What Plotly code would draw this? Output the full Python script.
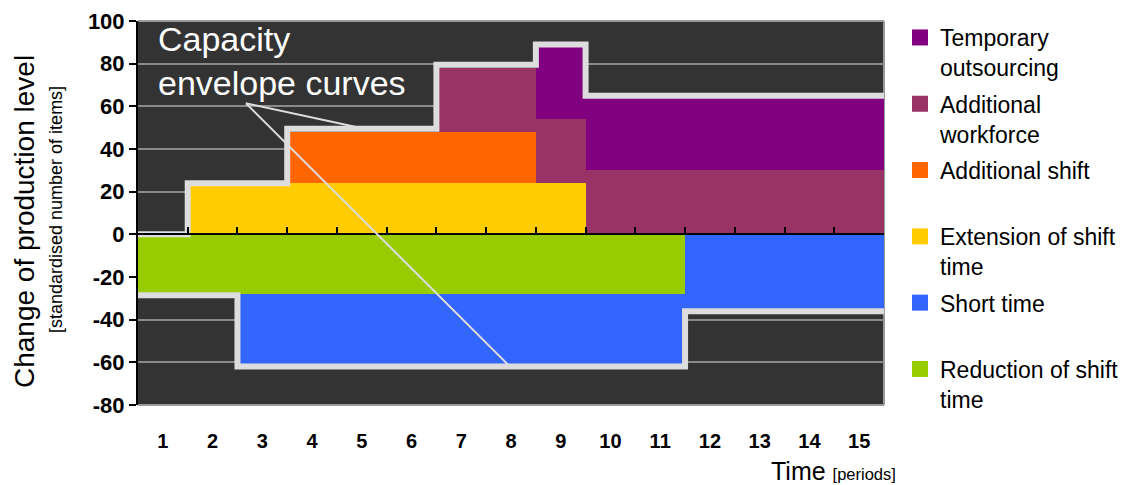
import plotly.graph_objects as go

# ---- data -------------------------------------------------------------
periods = list(range(1, 16))
period_labels = [str(p) for p in periods]

extension_of_shift_time = [0, 24, 24, 24, 24, 24, 24, 24, 24, 0, 0, 0, 0, 0, 0]
additional_shift = [0, 0, 0, 24, 24, 24, 24, 24, 0, 0, 0, 0, 0, 0, 0]
additional_workforce = [0, 0, 0, 0, 0, 0, 30, 30, 30, 30, 30, 30, 30, 30, 30]
temporary_outsourcing = [0, 0, 0, 0, 0, 0, 0, 0, 34, 34, 34, 34, 34, 34, 34]
reduction_of_shift_time = [-28, -28, -28, -28, -28, -28, -28, -28, -28, -28, -28, 0, 0, 0, 0]
short_time = [0, 0, -33, -33, -33, -33, -33, -33, -33, -33, -33, -35, -35, -35, -35]

upper_envelope = [0, 24, 24, 49.5, 49.5, 49.5, 79.5, 79.5, 89, 65, 65, 65, 65, 65, 65]
lower_envelope = [-28.5, -28.5, -62, -62, -62, -62, -62, -62, -62, -62, -62, -36, -36, -36, -36]

y_ticks = [-80, -60, -40, -20, 0, 20, 40, 60, 80, 100]
y_tick_labels = ["-80", "-60", "-40", "-20", "0", "20", "40", "60", "80", "100"]

# ---- styling ----------------------------------------------------------
FONT = "Liberation Sans, Arial, Helvetica, sans-serif"
ENVELOPE_COLOR = "#dddddd"
Y_MIN, Y_MAX = -80, 100
X_MIN, X_MAX = 0.5, 15.5

# plot area in pixels (used to place free text in paper coordinates)
W, H = 1130, 485
ML, MR, MT, MB = 138, 246, 21, 80
PW, PH = W - ML - MR, H - MT - MB


def px_x(px):
    return (px - ML) / PW


def px_y(py):
    return (H - MB - py) / PH


# stacking order: first positive trace sits on the zero line
series = [
    ("Extension of shift time", "Extension of shift<br>time", extension_of_shift_time, "#ffcc00", 4),
    ("Additional shift", "Additional shift<br> ", additional_shift, "#ff6600", 3),
    ("Additional workforce", "Additional<br>workforce", additional_workforce, "#993366", 2),
    ("Temporary outsourcing", "Temporary<br>outsourcing", temporary_outsourcing, "#800080", 1),
    ("Reduction of shift time", "Reduction of shift<br>time", reduction_of_shift_time, "#99cc00", 6),
    ("Short time", "Short time<br> ", short_time, "#3366ff", 5),
]

fig = go.Figure()

for name, legend_text, values, color, rank in series:
    fig.add_trace(go.Bar(
        x=periods, y=values, width=1, name=name,
        marker=dict(color=color, line=dict(width=0)),
        showlegend=False, hoverinfo="x+y+name",
    ))

# legend entries with larger square swatches
for name, legend_text, values, color, rank in series:
    fig.add_trace(go.Scatter(
        x=[None], y=[None], mode="markers", name=legend_text,
        marker=dict(symbol="square", size=16, color=color, line=dict(width=0)),
        legendrank=rank, legendgroup=name, showlegend=True,
    ))

# capacity envelope curves: steps change at period boundaries
bounds = [p - 0.5 for p in periods] + [periods[-1] + 0.5]
for env in (upper_envelope, lower_envelope):
    fig.add_trace(go.Scatter(
        x=bounds, y=env + [env[-1]], mode="lines", xaxis="x2",
        line=dict(shape="hv", color=ENVELOPE_COLOR, width=6),
        showlegend=False, hoverinfo="skip", cliponaxis=False,
    ))

# callout pointing at both envelope curves
callout_start = (2.67, 61.4)
callout_targets = [(5.05, upper_envelope[4]), (7.98, lower_envelope[7])]
shapes = []
for tx, ty in callout_targets:
    shapes.append(dict(
        type="line", xref="x", yref="y",
        x0=callout_start[0], y0=callout_start[1], x1=tx, y1=ty,
        line=dict(color=ENVELOPE_COLOR, width=2), layer="above",
    ))

# light frame on top, right and bottom of the plotting area
frame = dict(color="#9a9a9a", width=2)
shapes += [
    dict(type="line", xref="paper", yref="paper", x0=0, x1=1, y0=1, y1=1, line=frame, layer="below"),
    dict(type="line", xref="paper", yref="paper", x0=1, x1=1, y0=0, y1=1, line=frame, layer="below"),
    dict(type="line", xref="paper", yref="paper", x0=0, x1=1, y0=0, y1=0, line=frame, layer="below"),
]

annotations = [
    dict(text="Capacity<br>envelope curves", xref="paper", yref="paper",
         x=px_x(156), y=px_y(18), xanchor="left", yanchor="top", align="left",
         showarrow=False, font=dict(family=FONT, size=34, color="white")),
    dict(text="Change of production level", xref="paper", yref="paper",
         x=px_x(24), y=px_y(222), xanchor="center", yanchor="middle", textangle=-90,
         showarrow=False, font=dict(family=FONT, size=28, color="black")),
    dict(text="[standardised number of items]", xref="paper", yref="paper",
         x=px_x(56), y=px_y(210), xanchor="center", yanchor="middle", textangle=-90,
         showarrow=False, font=dict(family=FONT, size=18, color="black")),
    dict(text="Time <span style='font-size:16.5px'>[periods]</span>", xref="paper", yref="paper",
         x=px_x(898), y=px_y(487), xanchor="right", yanchor="bottom",
         showarrow=False, font=dict(family=FONT, size=25, color="black")),
]

fig.update_layout(
    width=W, height=H,
    margin=dict(l=ML, r=MR, t=MT, b=MB, pad=0, autoexpand=False),
    paper_bgcolor="white", plot_bgcolor="#333333",
    barmode="relative", bargap=0,
    font=dict(family=FONT, color="black"),
    showlegend=True,
    legend=dict(
        x=px_x(900), y=px_y(16), xanchor="left", yanchor="top",
        font=dict(family=FONT, size=23, color="black"),
        valign="top", tracegroupgap=3.5, itemclick=False, itemdoubleclick=False,
        bgcolor="rgba(0,0,0,0)", maxheight=480,
    ),
    xaxis=dict(
        range=[X_MIN, X_MAX], tickmode="array", tickvals=periods, ticktext=period_labels,
        showgrid=False, zeroline=False, showline=False, ticks="",
        tickfont=dict(family=FONT, size=20, color="black", weight="bold"),
        ticklabelstandoff=22,
    ),
    xaxis2=dict(
        range=[X_MIN, X_MAX], overlaying="x", anchor="free",
        position=(0 - Y_MIN) / (Y_MAX - Y_MIN),
        tickmode="array", tickvals=bounds[1:], showticklabels=False,
        ticks="inside", ticklen=6, tickwidth=2, tickcolor="black",
        showline=True, linecolor="black", linewidth=2,
        showgrid=False, zeroline=False, layer="above traces",
    ),
    yaxis=dict(
        range=[Y_MIN, Y_MAX], tickmode="array", tickvals=y_ticks, ticktext=y_tick_labels,
        showgrid=True, gridcolor="#8a8a8a", gridwidth=1.5, zeroline=False,
        showline=True, linecolor="black", linewidth=2,
        ticks="outside", ticklen=7, tickwidth=2, tickcolor="black",
        tickfont=dict(family=FONT, size=22, color="black", weight="bold"),
        layer="above traces",
    ),
    annotations=annotations,
    shapes=shapes,
)

fig.write_html("out.html")
